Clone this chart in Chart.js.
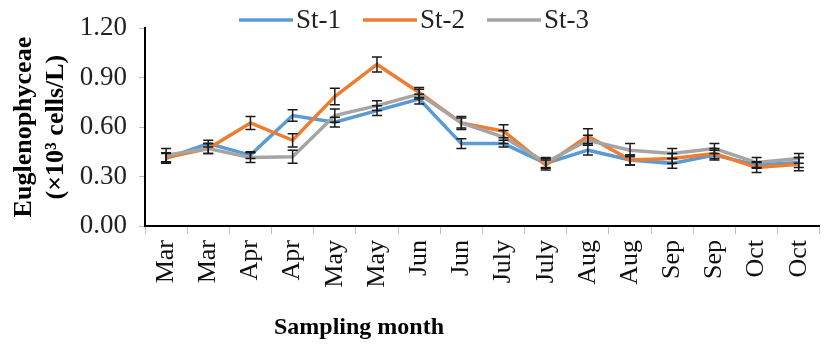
<!DOCTYPE html>
<html><head><meta charset="utf-8">
<script src="https://cdn.jsdelivr.net/npm/chart.js@4/dist/chart.umd.min.js"></script>
<style>
html,body{margin:0;padding:0;overflow:hidden;background:#fff}
#wrap{width:836px;height:346px;position:relative}
</style>
</head><body>
<div id="wrap"><canvas id="c"></canvas></div>
<script>
const categories = ["Mar","Mar","Apr","Apr","May","May","Jun","Jun","July","July","Aug","Aug","Sep","Sep","Oct","Oct"];
const seriesNames = ["St-1","St-2","St-3"];
const st1 = [0.41,0.50,0.43,0.67,0.63,0.70,0.77,0.50,0.50,0.38,0.46,0.40,0.38,0.43,0.37,0.385];
const st2 = [0.415,0.47,0.625,0.52,0.785,0.98,0.81,0.625,0.575,0.37,0.545,0.40,0.41,0.44,0.355,0.375];
const st3 = [0.43,0.47,0.415,0.42,0.67,0.73,0.80,0.625,0.54,0.385,0.52,0.46,0.44,0.47,0.385,0.41];
const st1Err = [0.03,0.02,0.02,0.035,0.03,0.03,0.03,0.03,0.02,0.03,0.03,0.03,0.03,0.03,0.02,0.03];
const st2Err = [0.03,0.03,0.04,0.04,0.05,0.045,0.03,0.04,0.04,0.03,0.045,0.03,0.03,0.03,0.03,0.04];
const st3Err = [0.04,0.03,0.03,0.04,0.04,0.03,0.03,0.03,0.04,0.03,0.03,0.04,0.03,0.03,0.03,0.03];
const yTicks = [0,0.3,0.6,0.9,1.2];
const yTitle = ["Euglenophyceae","(\u00d710\u00b3 cells/L)"];
const xTitle = "Sampling month";
const colors = ["#5B9BD5","#ED7D31","#A5A5A5"];

const SERIF = "'Liberation Serif','Times New Roman',serif";
const errs = [st1Err, st2Err, st3Err];

const errorBars = {
  id: 'errorBars',
  afterDatasetsDraw(chart) {
    const ctx = chart.ctx, ys = chart.scales.y;
    ctx.save();
    ctx.strokeStyle = '#1a1a1a';
    ctx.lineWidth = 1.5;
    chart.data.datasets.forEach((ds, i) => {
      const meta = chart.getDatasetMeta(i);
      ds.data.forEach((v, j) => {
        const x = meta.data[j].x;
        const e = errs[i][j];
        const yt = ys.getPixelForValue(v + e), yb = ys.getPixelForValue(v - e);
        ctx.beginPath();
        ctx.moveTo(x, yt); ctx.lineTo(x, yb);
        ctx.moveTo(x - 5, yt); ctx.lineTo(x + 5, yt);
        ctx.moveTo(x - 5, yb); ctx.lineTo(x + 5, yb);
        ctx.stroke();
      });
    });
    ctx.restore();
  }
};

const extras = {
  id: 'extras',
  afterDraw(chart) {
    const ctx = chart.ctx;
    ctx.save();
    // legend
    ctx.font = "27px " + SERIF;
    ctx.textBaseline = 'middle';
    ctx.textAlign = 'left';
    const lineW = 54, gap = 3, itemGap = 22;
    const widths = seriesNames.map(t => ctx.measureText(t).width);
    let total = 0;
    widths.forEach((w, i) => { total += lineW + gap + w + (i < widths.length - 1 ? itemGap : 0); });
    let x = 414 - total / 2;
    const y = 20;
    seriesNames.forEach((t, i) => {
      ctx.strokeStyle = colors[i];
      ctx.lineWidth = 3.5;
      ctx.beginPath(); ctx.moveTo(x, y); ctx.lineTo(x + lineW, y); ctx.stroke();
      ctx.fillStyle = '#222';
      ctx.fillText(t, x + lineW + gap, y + 1);
      x += lineW + gap + widths[i] + itemGap;
    });
    // x axis title
    ctx.font = "bold 24px " + SERIF;
    ctx.textAlign = 'center';
    ctx.fillStyle = '#000';
    ctx.fillText(xTitle, 359, 328);
    ctx.restore();
  }
};

new Chart(document.getElementById('c'), {
  type: 'line',
  data: {
    labels: categories,
    datasets: [st1, st2, st3].map((d, i) => ({
      label: seriesNames[i],
      data: d,
      borderColor: colors[i],
      backgroundColor: colors[i],
      borderWidth: 3.5,
      pointRadius: 0,
      tension: 0,
      fill: false,
      order: 2 - i
    }))
  },
  options: {
    responsive: true,
    maintainAspectRatio: false,
    devicePixelRatio: 1,
    animation: false,
    layout: { padding: { top: 24, right: 0, bottom: 0, left: 0 } },
    plugins: { legend: { display: false }, tooltip: { enabled: false } },
    scales: {
      x: {
        type: 'category',
        offset: true,
        grid: { display: true, drawOnChartArea: false, offset: true, tickLength: 8, color: '#bfbfbf' },
        border: { color: '#000', width: 2 },
        ticks: { font: { family: SERIF, size: 26 }, color: '#111', maxRotation: 90, minRotation: 90, padding: 6, autoSkip: false },
        afterFit(s) { s.height = 120; }
      },
      y: {
        min: 0, max: 1.2,
        afterBuildTicks(s) { s.ticks = yTicks.map(v => ({ value: v })); },
        ticks: { font: { family: SERIF, size: 27 }, color: '#222', padding: 12, callback: v => Number(v).toFixed(2) },
        grid: { drawOnChartArea: false, tickLength: 6, color: '#bfbfbf' },
        border: { color: '#000', width: 2 },
        title: { display: true, text: yTitle, font: { family: SERIF, size: 26, weight: 'bold', lineHeight: 1.25 }, color: '#000', padding: { top: 8, bottom: 0 } },
        afterFit(s) { s.width = 145; }
      }
    }
  },
  plugins: [errorBars, extras]
});
</script>
</body></html>
